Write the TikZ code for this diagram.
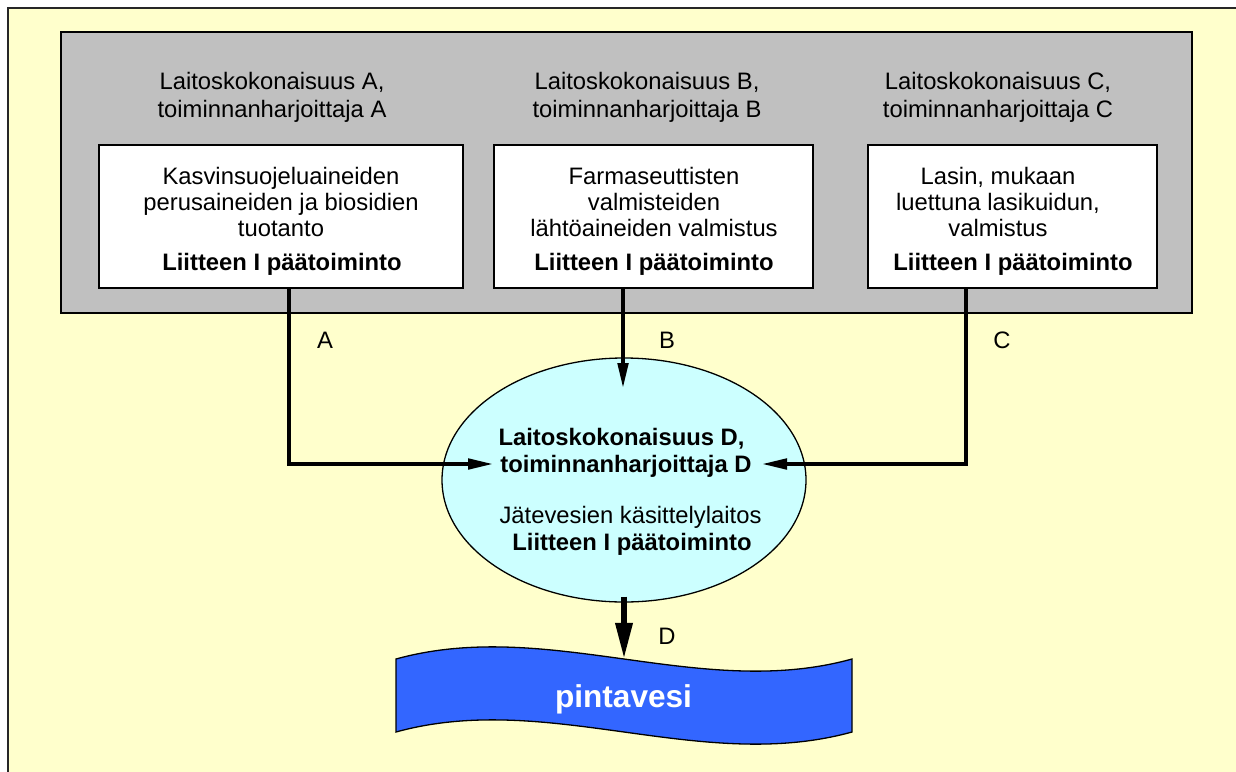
\documentclass[tikz,border=0pt]{standalone}
\usepackage{fontspec}
\setmainfont{Liberation Sans}
\usetikzlibrary{arrows.meta,shapes.geometric}

\definecolor{paper}{HTML}{FFFFCC}
\definecolor{sitegray}{HTML}{C0C0C0}
\definecolor{plantcyan}{HTML}{CCFFFF}
\definecolor{waterblue}{HTML}{3366FF}

\begin{document}
\begin{tikzpicture}[x=1pt,y=-1pt,
  txt/.style={inner sep=0pt, anchor=base, font=\fontsize{23.8}{27}\selectfont},
  boldtxt/.style={inner sep=0pt, anchor=base, font=\fontsize{23.8}{27}\selectfont\bfseries},
  unitbox/.style={draw=black, line width=1.6pt, fill=white, minimum height=143pt, inner sep=0pt},
  flow/.style={line width=3.5pt, -{Triangle[length=25pt,width=10.5pt]}},
  bigflow/.style={line width=6.5pt, -{Triangle[length=37pt,width=16pt]}},
]
\clip (0,0) rectangle (1236,771);
\fill[white] (0,0) rectangle (1236,771);
% page frame
\draw[fill=paper, draw=black!85, line width=2pt] (8,8) rectangle (1260,800);

% site with the three operators
\node[draw=black, line width=1.5pt, fill=sitegray, minimum width=1131pt, minimum height=281pt, inner sep=0pt] (site) at (626.5,172.5) {};

\node[unitbox, minimum width=364pt] (boxA) at (281,216.5) {};
\node[unitbox, minimum width=319pt] (boxB) at (653.5,216.5) {};
\node[unitbox, minimum width=289pt] (boxC) at (1012.5,216.5) {};

% operator headings
\node[txt] (hA1) at (272,89) {Laitoskokonaisuus A,};
\node[txt] (hA2) at (272,117) {toiminnanharjoittaja A};
\node[txt] (hB1) at (647,89) {Laitoskokonaisuus B,};
\node[txt] (hB2) at (647,117) {toiminnanharjoittaja B};
\node[txt] (hC1) at (998,89) {Laitoskokonaisuus C,};
\node[txt] (hC2) at (998,117) {toiminnanharjoittaja C};

% activities
\node[txt] (tA1) at (281,184) {Kasvinsuojeluaineiden};
\node[txt] (tA2) at (281,210) {perusaineiden ja biosidien};
\node[txt] (tA3) at (281,236) {tuotanto};
\node[boldtxt] (tA4) at (282,270) {Liitteen I päätoiminto};

\node[txt] (tB1) at (654,184) {Farmaseuttisten};
\node[txt] (tB2) at (654,210) {valmisteiden};
\node[txt] (tB3) at (654,236) {lähtöaineiden valmistus};
\node[boldtxt] (tB4) at (654,270) {Liitteen I päätoiminto};

\node[txt] (tC1) at (998,184) {Lasin, mukaan};
\node[txt] (tC2) at (998,210) {luettuna lasikuidun,};
\node[txt] (tC3) at (998,236) {valmistus};
\node[boldtxt] (tC4) at (1013,270) {Liitteen I päätoiminto};

% waste water treatment plant
\node[ellipse, draw=black, line width=1.3pt, fill=plantcyan, minimum width=364pt, minimum height=244pt, inner sep=0pt] (plantD) at (624,480) {};
\node[boldtxt] (tD1) at (621.5,445) {Laitoskokonaisuus D,};
\node[boldtxt] (tD2) at (626,472) {toiminnanharjoittaja D};
\node[txt] (tD3) at (630.5,523) {Jätevesien käsittelylaitos};
\node[boldtxt] (tD4) at (632,550) {Liitteen I päätoiminto};

% receiving water
\draw[fill=waterblue, line width=1.3pt]
  (396,659) .. controls (548,617) and (700,701) .. (852,659)
  -- (852,732) .. controls (700,774) and (548,690) .. (396,732) -- cycle;
\node[minimum width=456pt, minimum height=70pt, inner sep=0pt] (water) at (624,695) {};
\node[inner sep=0pt, anchor=base, text=white, font=\fontsize{31.6}{36}\selectfont\bfseries] (waterlabel) at (623.5,707) {pintavesi};

% flows
\coordinate (inA) at (493,464);
\coordinate (inB) at (623,388);
\coordinate (inC) at (762,464);
\draw[flow] ([xshift=8pt]boxA.south) |- (inA);
\draw[flow] ([xshift=-30.5pt]boxB.south) -- (inB);
\draw[flow] ([xshift=-46.5pt]boxC.south) |- (inC);
\draw[bigflow] ([yshift=6pt]plantD.south) -- (water.north);

\node[txt] (lA) at (325,348) {A};
\node[txt] (lB) at (667,348) {B};
\node[txt] (lC) at (1002,348) {C};
\node[txt] (lD) at (667,644) {D};
\end{tikzpicture}
\end{document}
